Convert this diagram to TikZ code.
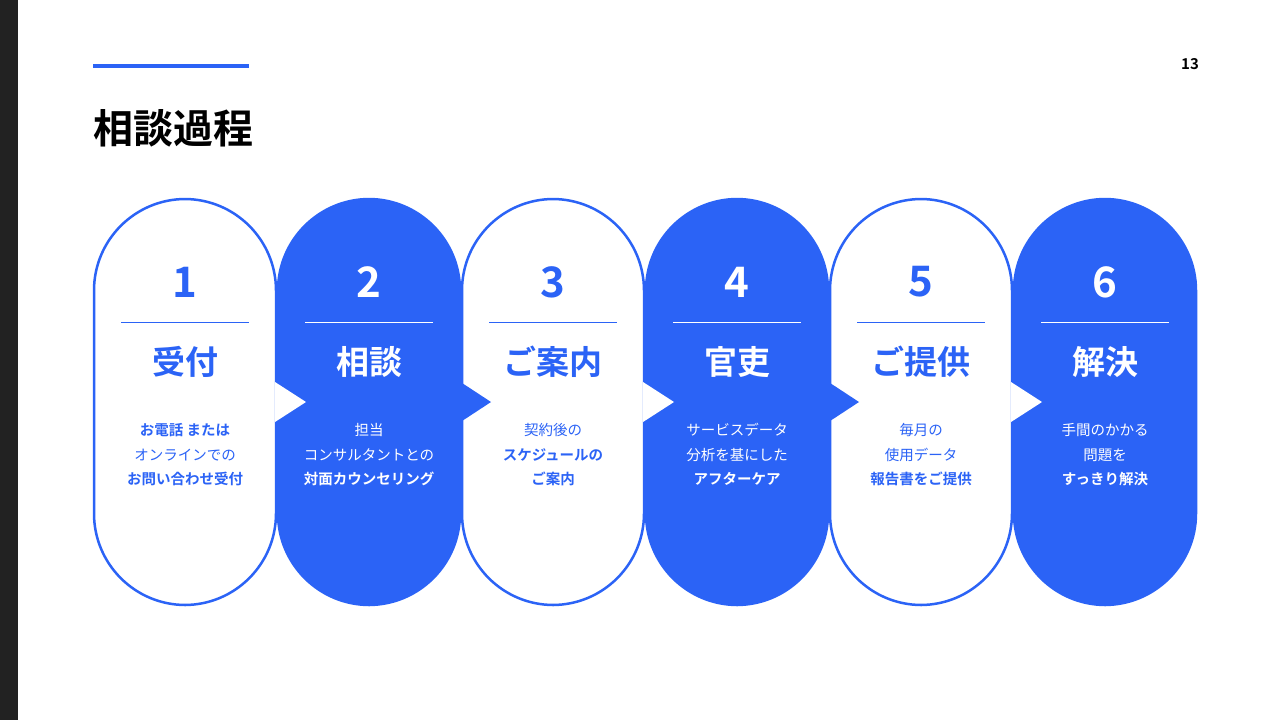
\documentclass[tikz,border=0pt]{standalone}
\usepackage{fontspec}
\setmainfont{Noto Sans CJK JP}[BoldFont={* Bold}]
\definecolor{bl}{HTML}{2B63F6}
\definecolor{dk}{HTML}{222222}
\begin{document}
\begin{tikzpicture}[x=1pt,y=-1pt,
  pillw/.style={draw=bl,line width=2.5pt,fill=white,rounded corners=91.5pt},
  pillb/.style={draw=bl,line width=2.5pt,fill=bl,rounded corners=91.5pt},
  num/.style={font=\bfseries\fontsize{42}{44}\selectfont},
  ttl/.style={font=\bfseries\fontsize{33}{36}\selectfont},
  desc/.style={font=\fontsize{14.5}{24.5}\selectfont,align=center,anchor=north}]
\useasboundingbox (0,0) rectangle (1280,720);
\fill[dk] (0,0) rectangle (18,720);
\draw[bl,line width=4pt] (93,66) -- (249,66);
\node[anchor=west,font=\bfseries\fontsize{40}{44}\selectfont] (t) at (90,128) {相談過程};
\node[font=\bfseries\fontsize{15}{18}\selectfont] (p) at (1190,64) {13};
\foreach \i/\n/\t/\d in {
 1/1/受付/{\textbf{お電話 または}\\オンラインでの\\\textbf{お問い合わせ受付}},
 2/2/相談/{担当\\コンサルタントとの\\\textbf{対面カウンセリング}},
 3/3/ご案内/{契約後の\\\textbf{スケジュールの}\\\textbf{ご案内}},
 4/4/官吏/{サービスデータ\\分析を基にした\\\textbf{アフターケア}},
 5/5/ご提供/{毎月の\\使用データ\\\textbf{報告書をご提供}},
 6/6/解決/{手間のかかる\\問題を\\\textbf{すっきり解決}}}{
  \pgfmathsetmacro{\c}{185+184*(\i-1)}
  \pgfmathsetmacro{\pc}{\c-184}
  \ifodd\i
    \draw[pillw] (\c-91,199) rectangle (\c+91,605);
    \ifnum\i>1 \fill[bl] (\pc+90,381) -- (\pc+122,402) -- (\pc+90,423) -- cycle; \fi
    \def\tc{bl}
  \else
    \draw[pillb] (\c-91,199) rectangle (\c+91,605);
    \fill[white] (\pc+90,382) -- (\pc+121,402) -- (\pc+90,422) -- cycle;
    \def\tc{white}
  \fi
  \node[num,text=\tc] (n\i) at (\c,282) {\n};
  \draw[\tc,line width=1pt] (\c-64,322) -- (\c+64,322);
  \node[ttl,text=\tc] (h\i) at (\c,362) {\t};
  \node[desc,text=\tc] (d\i) at (\c,420) {\d};
}
\end{tikzpicture}
\end{document}
